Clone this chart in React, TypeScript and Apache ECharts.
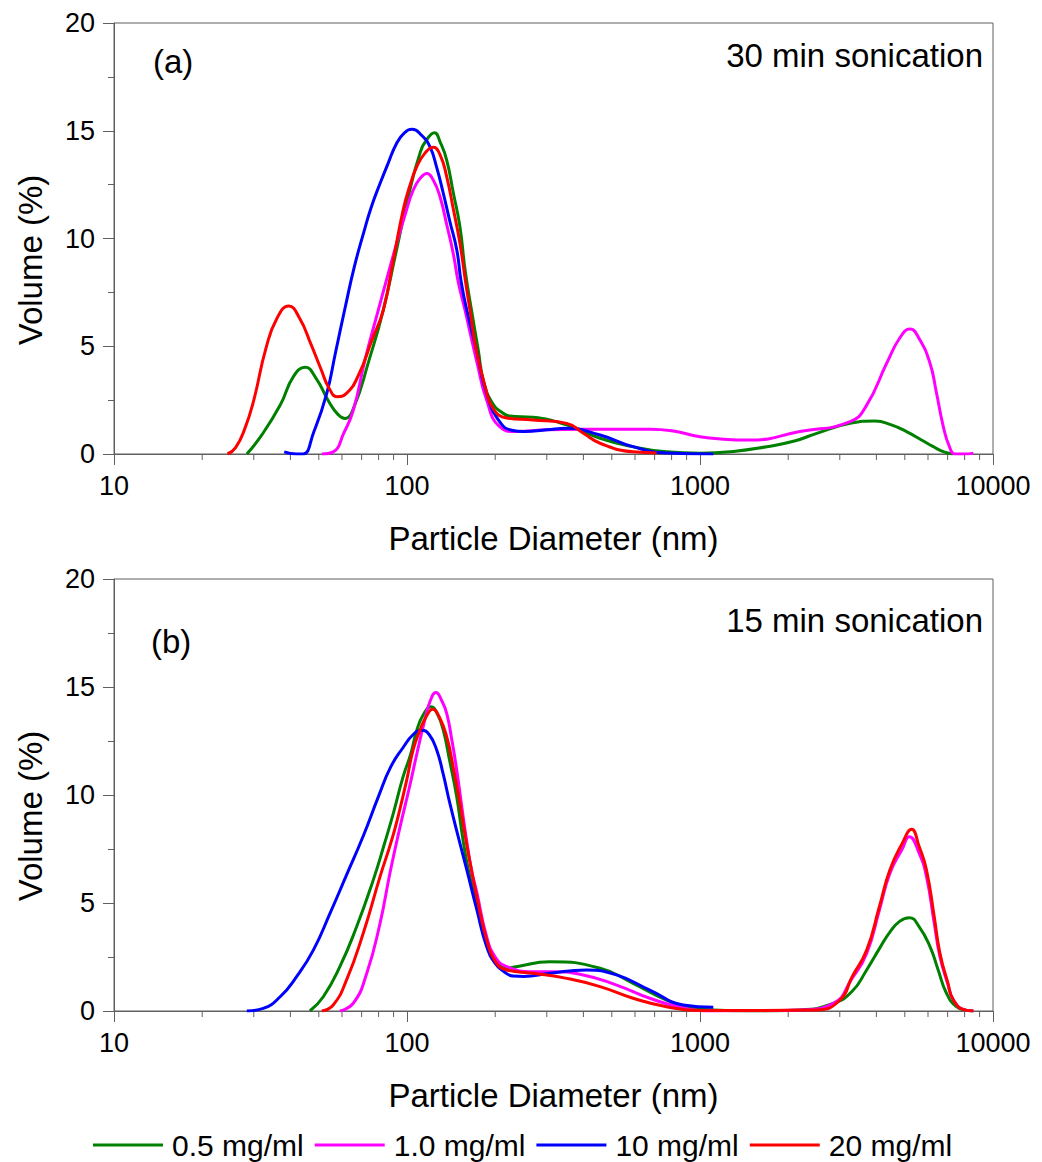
import React, { useEffect, useRef } from 'react';
import * as echarts from 'echarts';

// ---------- data (diameter nm, volume %) ----------
const seriesNames = ['0.5 mg/ml', '1.0 mg/ml', '10 mg/ml', '20 mg/ml'];
const seriesColors = ['#008000', '#ff00ff', '#0000ff', '#ff0000'];

// (a) 30 min sonication
const green30 = [[28.4,0],[32,0.9],[37,2.3],[41,3.6],[44.9,4.02],[49,3.5],[54,2.45],[58,1.85],[61.4,1.65],[66,2.2],[74,4.3],[83,6.68],[92,9.44],[101,11.94],[110.7,13.95],[117,14.6],[124,14.91],[130,14.45],[136.6,13.64],[144,12.1],[151.6,10.55],[158,8.5],[166,6.68],[175,4.84],[183,3.3],[197,2.3],[210,1.95],[224,1.76],[269,1.7],[351,1.35],[456,0.73],[591,0.34],[769,0.1],[1000,0.04],[1300,0.12],[1690,0.34],[2100,0.6],[2502,0.96],[3252,1.42],[3956,1.53],[4500,1.35],[5070,1.04],[5700,0.65],[6253,0.34],[6800,0.1],[7325,0]];
const magenta30 = [[51.2,0],[56,0.1],[61,1.0],[65.6,2.04],[72,4.4],[79.8,6.68],[86,8.3],[92.2,9.78],[98.5,11.1],[105,12.25],[111,12.8],[117,13.02],[123,12.7],[129.6,11.94],[136.6,10.65],[143.8,9.31],[150,7.9],[157.8,6.68],[165,5.5],[173,4.3],[187,2.5],[207,1.27],[236,1.04],[300,1.12],[400,1.15],[674,1.15],[800,1.08],[1000,0.8],[1200,0.69],[1483,0.65],[2193,1.04],[3252,1.5],[3705,2.27],[4336,4.21],[4800,5.37],[5208,5.8],[5600,5.35],[6095,4.21],[6400,2.9],[6767,1.27],[7100,0.34],[7413,0],[8000,0],[8570,0.04]];
const blue30 = [[38.1,0.1],[42,0],[44.2,0],[48,1.0],[53.2,2.8],[57,4.7],[61.4,6.75],[66,8.65],[70.9,10.2],[75.5,11.45],[80.9,12.55],[86,13.45],[92.2,14.42],[98,14.9],[104.2,15.07],[112,14.8],[119.7,14.26],[126,13.35],[133,12.1],[140,10.8],[147.9,9.47],[153,8.0],[160,6.68],[172,4.9],[187,2.8],[207,1.5],[228,1.1],[250,1.04],[300,1.12],[351,1.19],[456,0.88],[591,0.34],[769,0.05],[1110,0]];
const red30 = [[24.4,0],[26,0.3],[28,1.2],[30,2.5],[33,4.9],[36,6.3],[39.5,6.87],[43,6.3],[47,5.1],[51,3.9],[54,3.1],[57.8,2.66],[62,2.8],[68,3.6],[76,5.3],[83,6.68],[90,9.07],[97,11.32],[102,12.4],[108,13.33],[115,13.95],[123,14.23],[130,13.85],[136.6,12.87],[144,11.35],[151.6,9.78],[158,8.1],[164,6.68],[172,4.9],[185,3.1],[197,2.1],[219,1.67],[269,1.58],[351,1.42],[400,0.96],[456,0.5],[591,0.1],[711,0.05]];

// (b) 15 min sonication
const green15 = [[46.6,0],[51.8,0.66],[59,2.05],[67.3,3.9],[76.7,6.06],[84,7.8],[90,9.2],[97,10.85],[103,11.9],[108,13.0],[114,13.75],[120.8,14.09],[127,13.75],[133,13.0],[140,11.55],[147.8,9.92],[155,8.0],[162,6.53],[173,5.0],[187,3.1],[200,2.36],[219,1.98],[236,2.05],[307,2.28],[456,1.98],[591,1.28],[769,0.5],[900,0.2],[1110,0.05],[1500,0],[2200,0.05],[2851,0.35],[3300,0.9],[3705,1.9],[4100,2.9],[4446,3.65],[4800,4.15],[5180,4.32],[5600,3.9],[6095,2.98],[6500,1.9],[6938,0.82],[7500,0.2],[8123,0.03],[8570,0]];
const magenta15 = [[59,0],[65.6,0.36],[72.9,1.75],[80.9,4.06],[87.5,6.4],[94.6,8.5],[102.3,10.45],[108,11.9],[115,13.47],[120,14.35],[125.6,14.74],[131,14.4],[136.6,13.78],[142,12.6],[147.8,11.16],[157.8,8.38],[166,6.53],[173,5.5],[187,3.44],[200,2.5],[219,2.05],[269,1.82],[307,1.82],[399,1.67],[519,1.2],[674,0.59],[877,0.14],[1100,0],[2193,0.05],[2851,0.36],[3300,1.5],[3705,2.67],[4100,4.7],[4446,6.37],[4900,7.5],[5180,8.07],[5600,7.3],[5930,6.22],[6300,4.07],[6591,2.51],[7000,1.28],[7325,0.51],[8000,0.05],[8570,0]];
const blue15 = [[28.4,0],[32.3,0.12],[36.9,0.66],[42,1.59],[47.9,2.82],[54.6,4.52],[62.2,6.3],[70.9,8.1],[80,9.95],[88,11.3],[97,12.2],[105,12.8],[112.2,13.0],[119,12.8],[126.3,12.08],[133,10.95],[140,9.62],[151.6,7.76],[160,6.53],[173,4.7],[187,2.98],[200,2.2],[213,1.85],[230,1.62],[250,1.6],[307,1.75],[410,1.9],[519,1.67],[674,0.97],[877,0.28],[1110,0.17]];
const red15 = [[51.2,0],[56,0.28],[62.2,1.44],[70.9,3.6],[80.9,6.22],[88.7,7.92],[94,9.2],[99.8,10.7],[105,12.1],[110.7,13.0],[116,13.6],[122.4,13.97],[129,13.6],[136.6,12.7],[144,11.25],[151.6,9.62],[158,8.1],[166,6.53],[173,5.3],[187,3.29],[200,2.3],[219,1.9],[269,1.75],[351,1.51],[456,1.13],[591,0.59],[769,0.2],[1000,0.02],[2502,0.05],[3006,0.51],[3300,1.57],[3705,2.82],[4100,4.86],[4446,6.53],[4900,7.76],[5272,8.41],[5600,7.6],[5930,6.53],[6300,4.37],[6591,2.67],[7000,1.35],[7325,0.51],[8000,0.05],[8570,0]];

const panel30 = [green30, magenta30, blue30, red30];
const panel15 = [green15, magenta15, blue15, red15];

const xMinorTicks = [20,30,40,50,60,70,80,90,200,300,400,500,600,700,800,900,2000,3000,4000,5000,6000,7000,8000,9000];

const FONT = "'Liberation Sans', Arial, sans-serif";
const AXIS_COLOR = '#606060';

function buildOption() {
  const grids = [
    { left: 114, top: 23, width: 879, height: 431 },
    { left: 114, top: 579, width: 879, height: 432 },
  ].map((g) => ({ ...g, show: true, borderColor: AXIS_COLOR, borderWidth: 1, backgroundColor: 'transparent' }));

  const xAxes = [0, 1].map((i) => ({
    type: 'log',
    logBase: 10,
    gridIndex: i,
    min: 10,
    max: 10000,
    name: 'Particle Diameter (nm)',
    nameLocation: 'middle',
    nameGap: 68,
    nameTextStyle: { fontSize: 33, color: '#000', fontFamily: FONT },
    axisLine: { show: true, lineStyle: { color: AXIS_COLOR, width: 1 } },
    axisTick: { show: true, inside: false, length: 11, lineStyle: { color: AXIS_COLOR } },
    minorTick: { show: false },
    axisLabel: {
      fontSize: 27, color: '#000', margin: 18, fontFamily: FONT,
      formatter: (v: number) => String(Math.round(v)),
    },
    splitLine: { show: false },
  }));

  const yAxes = [0, 1].map((i) => ({
    type: 'value',
    gridIndex: i,
    min: 0,
    max: 20,
    interval: 5,
    axisLine: { show: true, lineStyle: { color: AXIS_COLOR, width: 1 } },
    axisTick: { show: true, inside: false, length: 11, lineStyle: { color: AXIS_COLOR } },
    minorTick: { show: true, splitNumber: 2, length: 6, lineStyle: { color: AXIS_COLOR } },
    axisLabel: { fontSize: 27, color: '#000', margin: 19, fontFamily: FONT },
    splitLine: { show: false },
  }));

  const series: any[] = [];
  [panel30, panel15].forEach((panel, gi) => {
    panel.forEach((data, si) => {
      series.push({
        type: 'line',
        name: seriesNames[si],
        xAxisIndex: gi,
        yAxisIndex: gi,
        data,
        smooth: 0.5,
        symbol: 'none',
        showSymbol: false,
        lineStyle: { color: seriesColors[si], width: 3 },
        itemStyle: { color: seriesColors[si] },
        z: 3 + si,
      });
    });
    series.push({
      type: 'custom',
      name: 'minorTicks' + gi,
      xAxisIndex: gi,
      yAxisIndex: gi,
      silent: true,
      clip: false,
      data: xMinorTicks.map((v) => [v, 0]),
      encode: { x: 0, y: 1 },
      renderItem: (params: any, api: any) => {
        const p = api.coord([api.value(0), 0]);
        return {
          type: 'line',
          shape: { x1: p[0], y1: p[1], x2: p[0], y2: p[1] + 6 },
          style: { stroke: AXIS_COLOR, lineWidth: 1 },
        };
      },
      z: 1,
    });
  });

  const textStyleBase = { fill: '#000', fontSize: 33, fontFamily: FONT };

  return {
    animation: false,
    backgroundColor: '#fff',
    textStyle: { fontFamily: FONT },
    grid: grids,
    xAxis: xAxes,
    yAxis: yAxes,
    legend: {
      data: seriesNames,
      left: 93,
      top: 1130,
      padding: 0,
      icon: 'rect',
      itemWidth: 70,
      itemHeight: 3,
      itemGap: 11,
      textStyle: { fontSize: 30, color: '#000', fontFamily: FONT, padding: [0, 0, 0, 4] },
    },
    graphic: [
      { type: 'text', x: 30, y: 260, rotation: Math.PI / 2, style: { ...textStyleBase, text: 'Volume (%)', textAlign: 'center', textVerticalAlign: 'middle' } },
      { type: 'text', x: 30, y: 816, rotation: Math.PI / 2, style: { ...textStyleBase, text: 'Volume (%)', textAlign: 'center', textVerticalAlign: 'middle' } },
      { type: 'text', x: 153, y: 61.6, style: { ...textStyleBase, text: '(a)', textAlign: 'left', textVerticalAlign: 'middle' } },
      { type: 'text', x: 151, y: 641.6, style: { ...textStyleBase, text: '(b)', textAlign: 'left', textVerticalAlign: 'middle' } },
      { type: 'text', x: 983, y: 55.6, style: { ...textStyleBase, text: '30 min sonication', textAlign: 'right', textVerticalAlign: 'middle' } },
      { type: 'text', x: 983, y: 620.6, style: { ...textStyleBase, text: '15 min sonication', textAlign: 'right', textVerticalAlign: 'middle' } },
    ],
    series,
  };
}

export default function App() {
  const ref = useRef<HTMLDivElement>(null);
  useEffect(() => {
    if (!ref.current) return;
    const chart = echarts.init(ref.current, null, { renderer: 'svg' });
    chart.setOption(buildOption() as any);
    return () => chart.dispose();
  }, []);
  return (
    <div
      ref={ref}
      style={{ position: 'absolute', left: 0, top: 0, width: 1042, height: 1162, background: '#fff' }}
    />
  );
}
